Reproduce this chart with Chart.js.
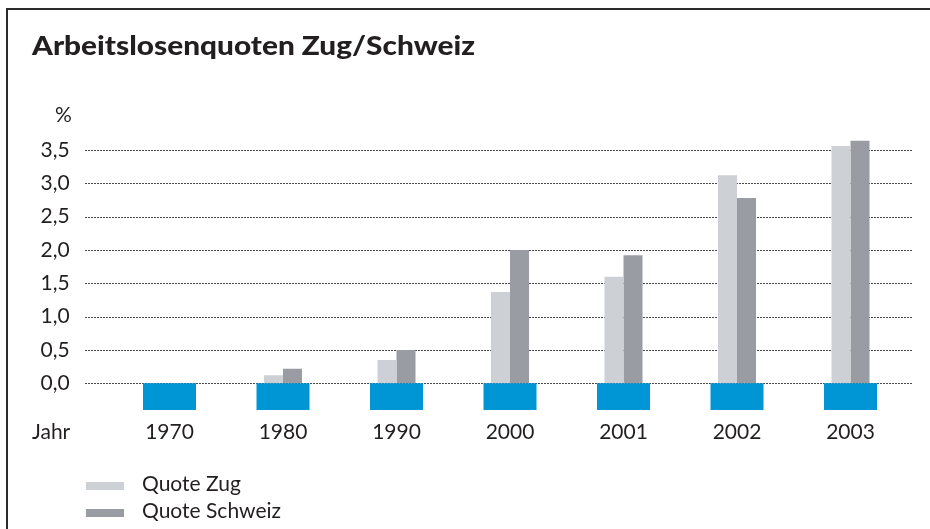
<!DOCTYPE html>
<html>
<head>
<meta charset="utf-8">
<script src="https://cdn.jsdelivr.net/npm/chart.js@4"></script>
<style>
  html, body { margin: 0; padding: 0; background: #fff; }
  #wrap { position: relative; width: 930px; height: 529px; overflow: hidden; font-family: Lato, "Open Sans", sans-serif; color: #231f20; }
  #frame { position: absolute; left: 6px; top: 8px; width: 1000px; height: 600px; border-top: 2px solid #2b2b2b; border-left: 2px solid #2b2b2b; }
  canvas { position: absolute; left: 0; top: 0; }
  .txt { position: absolute; white-space: nowrap; font-size: 21px; line-height: 1; }
  #title { left: 32px; top: 31px; font-weight: 900; font-size: 27px; transform-origin: left top; }
  #legend { position: absolute; left: 86px; top: 472px; }
  .item { position: absolute; left: 0; height: 26px; white-space: nowrap; font-size: 21px; }
  .sw { position: absolute; left: 0; width: 38px; height: 8px; }
  .lab { position: absolute; left: 56px; line-height: 1; }
</style>
</head>
<body>
<div id="wrap">
  <canvas id="c" width="930" height="529"></canvas>
  <div id="frame"></div>
  <div class="txt" id="title">Arbeitslosenquoten Zug/Schweiz</div>
  <div class="txt" id="pct" style="left:55px; top:103px;">%</div>
  <div class="txt" id="jahr" style="left:32px; top:420px;">Jahr</div>
  <div id="legend"></div>
</div>
<script>
const categories = ['1970', '1980', '1990', '2000', '2001', '2002', '2003'];
const quoteZug = [0, 0.12, 0.35, 1.37, 1.6, 3.12, 3.56];
const quoteSchweiz = [0, 0.22, 0.5, 2.0, 1.92, 2.78, 3.64];
const yearBand = [-0.4, -0.4, -0.4, -0.4, -0.4, -0.4, -0.4];
const yTicks = [0, 0.5, 1, 1.5, 2, 2.5, 3, 3.5];
const yTickLabels = ['0,0', '0,5', '1,0', '1,5', '2,0', '2,5', '3,0', '3,5'];
const seriesNames = ['Quote Zug', 'Quote Schweiz'];
const colors = { zug: '#cdd0d4', schweiz: '#9a9ca3', band: '#0096d6', grid: '#4a4a4a', text: '#231f20' };

// fit title width
const t = document.getElementById('title');
const tw = t.getBoundingClientRect().width;
t.style.transform = 'scaleX(' + (443 / tw) + ')';

const gridPlugin = {
  id: 'extGrid',
  beforeDatasetsDraw(chart) {
    const y = chart.scales.y;
    const ctx = chart.ctx;
    ctx.save();
    ctx.strokeStyle = colors.grid;
    ctx.lineWidth = 1;
    ctx.setLineDash([2, 1]);
    y.ticks.forEach(tk => {
      const py = Math.round(y.getPixelForValue(tk.value)) + 0.5;
      ctx.beginPath();
      ctx.moveTo(85, py);
      ctx.lineTo(912, py);
      ctx.stroke();
    });
    ctx.restore();
  }
};

const chart = new Chart(document.getElementById('c'), {
  type: 'bar',
  data: {
    labels: categories,
    datasets: [
      { label: seriesNames[0], data: quoteZug, backgroundColor: colors.zug, categoryPercentage: 0.335, barPercentage: 1, order: 2 },
      { label: seriesNames[1], data: quoteSchweiz, backgroundColor: colors.schweiz, categoryPercentage: 0.335, barPercentage: 1, order: 2 },
      { label: 'Jahr', data: yearBand, backgroundColor: colors.band, grouped: false, categoryPercentage: 0.467, barPercentage: 1, order: 1 }
    ]
  },
  options: {
    responsive: false,
    animation: false,
    events: [],
    layout: { padding: { left: 33, top: 136.67, right: 22.75, bottom: 85 } },
    plugins: { legend: { display: false }, title: { display: false }, tooltip: { enabled: false } },
    scales: {
      x: {
        type: 'category',
        offset: true,
        grid: { display: false, drawTicks: false },
        border: { display: false },
        ticks: { color: colors.text, font: { family: 'Lato', size: 21 }, padding: 10, maxRotation: 0 },
        afterFit(s) { s.height = 34; }
      },
      y: {
        min: -0.4,
        max: 3.7,
        grid: { display: false, drawTicks: false },
        border: { display: false },
        afterBuildTicks(s) { s.ticks = yTicks.map(v => ({ value: v })); },
        afterFit(s) { s.width = 79.75; },
        ticks: {
          color: colors.text,
          font: { family: 'Lato', size: 21 },
          padding: 43,
          callback: (v, i) => yTickLabels[i]
        }
      }
    }
  },
  plugins: [gridPlugin]
});

// legend from dataset labels/colors
const lg = document.getElementById('legend');
chart.data.datasets.slice(0, 2).forEach((ds, i) => {
  const it = document.createElement('div');
  it.className = 'item';
  it.style.top = (i * 27) + 'px';
  const sw = document.createElement('div');
  sw.className = 'sw';
  sw.style.top = '10px';
  sw.style.background = ds.backgroundColor;
  const lab = document.createElement('div');
  lab.className = 'lab';
  lab.style.top = '0px';
  lab.textContent = ds.label;
  it.appendChild(sw);
  it.appendChild(lab);
  lg.appendChild(it);
});
</script>
</body>
</html>
